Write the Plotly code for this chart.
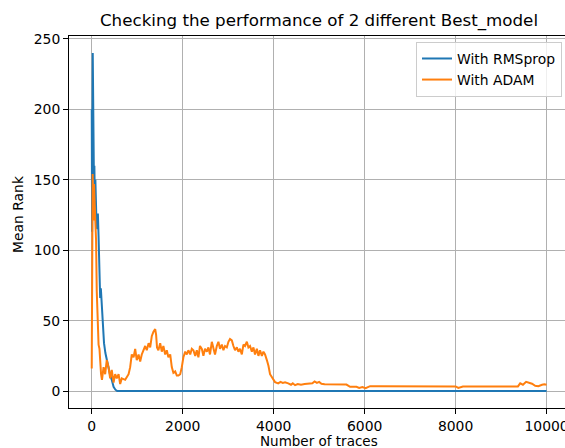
import plotly.graph_objects as go

# ---- data ----
rms_x = [0, 8, 15, 22, 30, 38, 48, 58, 68, 80, 92, 105, 120, 135, 150, 162, 172, 185,
         200, 215, 235, 245, 270, 300, 330, 360, 400, 440, 480, 520, 560, 1000, 2000,
         4000, 6000, 8000, 10000]
rms_y = [200, 113, 180, 240, 195, 159, 150, 160, 135, 150, 122, 118, 115, 126, 110, 90, 76, 66,
         73, 63, 55, 43, 34, 27, 22, 18, 12, 8, 3, 1, 0, 0, 0,
         0, 0, 0, 0]

adam_x = [0, 10, 20, 35, 50, 65, 95, 110, 130, 150, 170, 185, 205, 225, 260, 295, 330, 370,
          405, 440, 480, 515, 550, 590, 625, 660, 735, 810, 845, 880, 920, 955, 990, 1030,
          1065, 1100, 1140, 1175, 1210, 1250, 1285, 1320, 1355, 1395, 1415, 1435, 1465, 1505,
          1540, 1575, 1615, 1650, 1685, 1725, 1760, 1795, 1835, 1870, 1905, 1945, 1980, 2015,
          2055, 2090, 2125, 2165, 2200, 2235, 2275, 2310, 2345, 2380, 2420, 2455, 2490, 2530,
          2565, 2600, 2640, 2675, 2710, 2750, 2785, 2820, 2860, 2895, 2930, 2970, 3005, 3040,
          3080, 3115, 3150, 3190, 3225, 3260, 3300, 3335, 3370, 3410, 3445, 3480, 3520, 3555,
          3590, 3630, 3665, 3700, 3740, 3775, 3810, 3850, 3885, 3920, 3960, 3995, 4030, 4100,
          4150, 4200, 4250, 4320, 4380, 4420, 4470, 4530, 4600, 4680, 4760, 4850, 4900, 4950,
          5000, 5050, 5120, 5200, 5300, 5400, 5500, 5600, 5680, 5750, 5820, 5880, 5950, 6020,
          6080, 6120, 6300, 6600, 7000, 7500, 8000, 8060, 8100, 8160, 8500, 9000, 9370, 9420,
          9480, 9550, 9620, 9680, 9750, 9820, 9900, 9950, 10000]
adam_y = [16, 107, 154, 121, 147, 132, 107, 71, 41, 33, 30, 18, 12, 8, 17, 12, 22, 17,
          9, 15, 6, 12, 9, 12, 5, 9, 8, 12, 17, 26, 24, 30, 22, 26,
          21, 26, 29, 32, 29, 34, 31, 39, 42, 44, 40, 31, 29, 34,
          28, 32, 26, 29, 24, 26, 17, 13, 14, 11, 11, 12, 17, 24,
          28, 26, 29, 26, 30, 29, 25, 29, 24, 32, 30, 25, 30, 28,
          31, 26, 35, 31, 26, 32, 35, 30, 33, 29, 32, 31, 35, 37,
          36, 32, 29, 31, 28, 30, 26, 33, 32, 35, 31, 32, 28, 31,
          26, 30, 25, 29, 25, 28, 26, 22, 18, 12, 10, 8, 6.4, 5.5,
          6.5, 5.8, 6.2, 5.5, 4.5, 5.5, 4.2, 5, 4.5, 5, 5, 5.5, 6.8, 5.8,
          6.5, 5.2, 4.8, 4.8, 4.5, 4.8, 4.5, 4.6, 3, 2.8, 3, 2.2, 2.8, 2,
          3, 3.5, 3.5, 3.5, 3.5, 3.4, 3.3, 2.2, 2.5, 3.3, 3.3, 3.3, 3.3, 5.5,
          4.5, 6.6, 5.8, 5.2, 3.8, 3.5, 4.5, 4.8, 4.5]

x_ticks = [0, 2000, 4000, 6000, 8000, 10000]
x_tick_text = ["0", "2000", "4000", "6000", "8000", "10000"]
y_ticks = [0, 50, 100, 150, 200, 250]
y_tick_text = ["0", "50", "100", "150", "200", "250"]

title_text = "Checking the performance of 2 different Best_model"
x_label = "Number of traces"
y_label = "Mean Rank"

FONT = "DejaVu Sans"

fig = go.Figure()
fig.add_trace(go.Scatter(x=rms_x, y=rms_y, mode="lines", name="With RMSprop",
                         line=dict(color="#1f77b4", width=2)))
fig.add_trace(go.Scatter(x=adam_x, y=adam_y, mode="lines", name="With ADAM",
                         line=dict(color="#ff7f0e", width=2)))

axis_common = dict(
    showgrid=True, gridcolor="#b0b0b0", gridwidth=1,
    showline=True, linecolor="black", linewidth=1,
    ticks="outside", ticklen=5, tickwidth=1, tickcolor="black",
    tickfont=dict(family=FONT, size=13.9, color="black"),
    zeroline=False, ticklabeloverflow="allow", automargin=False,
)

fig.update_layout(
    width=565, height=448,
    margin=dict(l=69, r=0, t=36, b=40, autoexpand=False),
    paper_bgcolor="white", plot_bgcolor="white",
    font=dict(family=FONT, color="black"),
    title=dict(text=title_text, x=319 / 565, xanchor="center",
               y=1 - 20 / 448, yanchor="middle",
               font=dict(family=FONT, size=16.7, color="black")),
    xaxis=dict(range=[-500, 10405], tickvals=x_ticks, ticktext=x_tick_text,
               mirror=True, **axis_common),
    yaxis=dict(range=[-12, 252], tickvals=y_ticks, ticktext=y_tick_text, **axis_common),
    legend=dict(x=0.994, y=0.984, xanchor="right", yanchor="top",
                bgcolor="rgba(255,255,255,0.8)", bordercolor="#cccccc", borderwidth=1,
                font=dict(family=FONT, size=13.9, color="black"),
                tracegroupgap=0),
    showlegend=True,
    annotations=[
        dict(text=x_label, xref="paper", yref="paper", x=(319 - 69) / 496,
             y=-(441 - 408) / 372, xanchor="center", yanchor="middle",
             showarrow=False, font=dict(family=FONT, size=13.5, color="black")),
        dict(text=y_label, xref="paper", yref="paper", x=-(69 - 18) / 496,
             y=(408 - 215) / 372, xanchor="center", yanchor="middle", textangle=-90,
             showarrow=False, font=dict(family=FONT, size=13.9, color="black")),
    ],
)

fig.write_html("out.html")
